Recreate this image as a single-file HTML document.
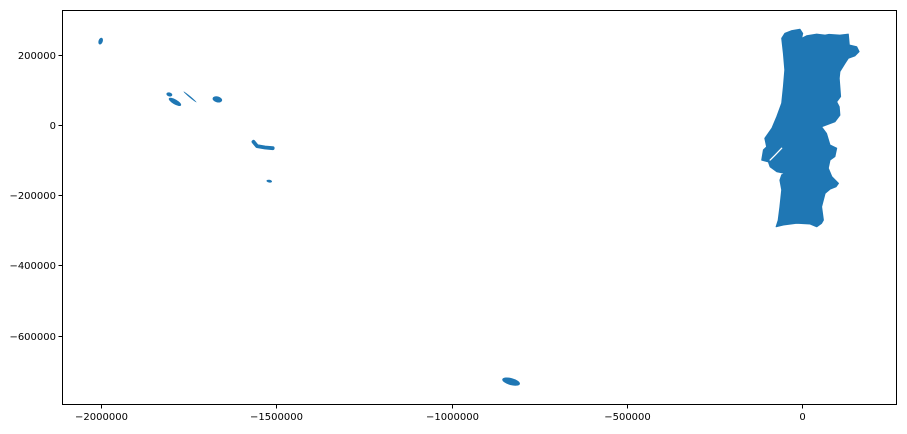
<!DOCTYPE html>
<html><head><meta charset="utf-8"><style>
body{margin:0;background:#fff;}
svg text{font-family:"DejaVu Sans","Liberation Sans",sans-serif;font-size:10px;fill:#000;}
</style></head><body>
<svg id="chart" width="907" height="429" xmlns="http://www.w3.org/2000/svg">
<g id="marks"></g>
<g id="axes"></g>
</svg>
<script>
// data in thousands of map units
const xTicks = [-2000000, -1500000, -1000000, -500000, 0];
const yTicks = [200000, 0, -200000, -400000, -600000];
const mainlandX = [-58,-49,-29,-6,2,-1,13,42,66,77,108,132,135,156,163,151,132,123,108,106,110,99,106,108,94,56,70,80,99,94,80,75,85,104,97,80,66,56,61,56,42,23,-15,-53,-74,-68,-63,-58,-63,-58,-49,-72,-91,-96,-115,-110,-101,-106,-86,-72,-58,-53,-49,-53];
const mainlandY = [247,261,269,273,261,247,254,259,256,258,256,259,228,223,209,197,190,176,152,133,81,66,52,28,9,-5,-24,-57,-66,-90,-100,-123,-147,-166,-176,-183,-195,-233,-271,-280,-290,-282,-280,-285,-290,-271,-233,-185,-157,-142,-138,-133,-119,-105,-100,-71,-62,-38,-9,24,62,109,157,204];
const notchX = [-58,-77,-91];
const notchY = [-66,-86,-100];
const islandNames = ['flores','faial','pico','sao-jorge','terceira','santa-maria','madeira'];
const islandCX = [-2001,-1805,-1789,-1746,-1668,-1520,-830];
const islandCY = [239,87,66,80,73,-160,-731];
const islandRX = [6,8.6,20,24,14,8,26];
const islandRY = [10,5.7,7,2,8.5,4,10];
const islandRot = [20,15,30,40,15,10,15];
const saoMiguelX = [-1565,-1555,-1532,-1510];
const saoMiguelY = [-48,-60,-64,-66];

const L=62,R=897,T=10,B=405;
const x = v => 802 + v*0.0003505;      // v in map units
const y = v => 125 - v*0.000351;
const xk = v => x(v*1000), yk = v => y(v*1000);
const NS='http://www.w3.org/2000/svg';
const marks=document.getElementById('marks'), axes=document.getElementById('axes');
const C='#1f77b4';
function mk(t,a,p){const e=document.createElementNS(NS,t);for(const k in a)e.setAttribute(k,a[k]);p.appendChild(e);return e;}

let d=mainlandX.map((v,i)=>(i?'L':'M')+xk(v).toFixed(1)+','+yk(mainlandY[i]).toFixed(1)).join(' ')+'Z';
const ml=mk('path',{d:d,fill:C,'stroke':C,'stroke-width':1,'stroke-linejoin':'round'},marks);


d=notchX.map((v,i)=>(i?'L':'M')+xk(v).toFixed(1)+','+yk(notchY[i]).toFixed(1)).join(' ');
const nt=mk('path',{d:d,fill:'none',stroke:'#fff','stroke-width':1.3,'stroke-linecap':'round'},marks);


islandCX.forEach((v,i)=>{
  const cx=xk(v), cy=yk(islandCY[i]);
  const e=mk('ellipse',{cx:cx,cy:cy,rx:islandRX[i]*0.3505,ry:islandRY[i]*0.351,fill:C,transform:`rotate(${islandRot[i]} ${cx} ${cy})`},marks);
  
  
});
d=saoMiguelX.map((v,i)=>(i?'L':'M')+xk(v).toFixed(1)+','+yk(saoMiguelY[i]).toFixed(1)).join(' ');
const sm=mk('path',{d:d,fill:'none',stroke:C,'stroke-width':3.8,'stroke-linecap':'round','stroke-linejoin':'round'},marks);



const fr=mk('rect',{x:L+0.5,y:T+0.5,width:R-L-1,height:B-T-1,fill:'none',stroke:'#000','stroke-width':1},axes);


const fmt=v=>(v<0?'\u2212':'')+Math.abs(v);
xTicks.forEach(v=>{
  const px=Math.round(x(v))+0.5;
  const t=mk('line',{x1:px,x2:px,y1:B,y2:B+3.5,stroke:'#000'},axes);
  
  
  const l=mk('text',{x:px,y:B+15,'text-anchor':'middle'},axes);l.textContent=fmt(v);
  
  
});
yTicks.forEach(v=>{
  const py=Math.round(y(v))+0.5;
  const t=mk('line',{x1:L-3.5,x2:L,y1:py,y2:py,stroke:'#000'},axes);
  
  
  const l=mk('text',{x:L-6,y:py+3.5,'text-anchor':'end'},axes);l.textContent=fmt(v);
  
  
});
</script>
</body></html>
